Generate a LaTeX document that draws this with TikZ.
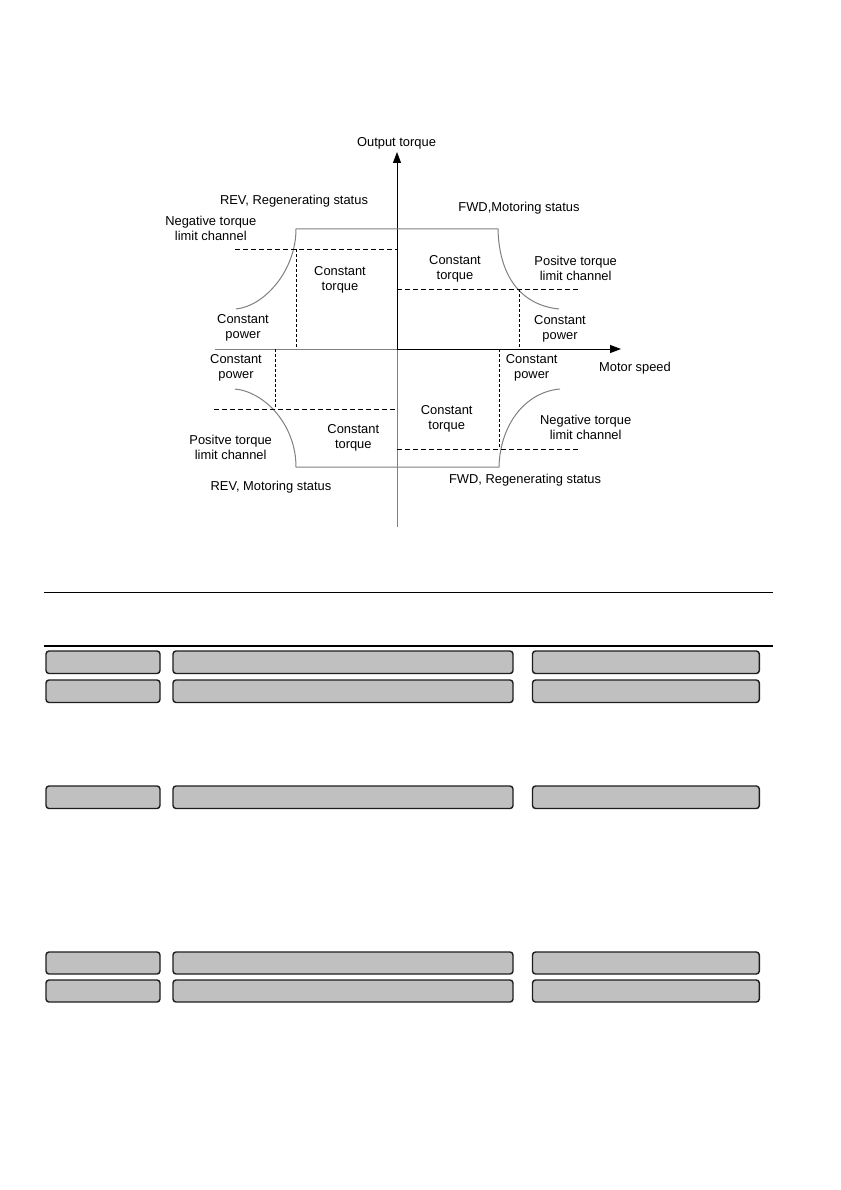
\documentclass[tikz,border=0pt]{standalone}
\usepackage{fontspec}
\setmainfont{Liberation Sans}
\usetikzlibrary{arrows.meta}
\definecolor{barfill}{HTML}{C0C0C0}
\definecolor{barline}{HTML}{1E1E1E}
\definecolor{limgray}{HTML}{808080}
\begin{document}
\begin{tikzpicture}[x=1pt,y=-1pt,
  lbl/.style={font=\fontsize{12.9}{15}\selectfont, align=center, inner sep=0pt, text=black},
  axisline/.style={line width=1pt, black},
  axisgray/.style={line width=1pt, limgray},
  limline/.style={line width=1pt, limgray},
  dashh/.style={line width=1pt, black, dash pattern=on 5pt off 3pt},
  dashv/.style={line width=1pt, black, dash pattern=on 3pt off 2pt},
  bar/.style={draw=barline, fill=barfill, line width=1.4pt, rounded corners=3pt},
  rule/.style={line width=1.3pt, black},
  tip/.style={-{Triangle[length=11pt,width=8pt]}}
]
\useasboundingbox (0,0) rectangle (840,1190);
\fill[white] (0,0) rectangle (840,1190);

% axes
\coordinate (O) at (397,349);
\coordinate (ytop) at (397,152);
\coordinate (ybot) at (397,527);
\coordinate (xleft) at (215,349);
\coordinate (xright) at (621,349);
\draw[axisgray] (O) -- (ybot);
\draw[axisgray] (xleft) -- (O);
\draw[axisline,tip] (O) -- (ytop);
\draw[axisline,tip] (O) -- (xright);

% upper torque limit
\draw[limline] (236,309) .. controls (265,306) and (296,270) .. (296,229) -- (498,229)
  .. controls (499,275) and (520,305) .. (559,309);
% lower torque limit
\draw[limline] (235,389) .. controls (265,392) and (296,425) .. (296,467) -- (499,467)
  .. controls (500,425) and (525,392) .. (560,389);

% dashed lines upper
\draw[dashh] (235,249) -- (397,249);
\draw[dashv] (296.5,249) -- (296.5,349);
\draw[dashh] (397,289) -- (580,289);
\draw[dashv] (519.3,289) -- (519.3,349);
% dashed lines lower
\draw[dashh] (214,409) -- (397,409);
\draw[dashv] (275.3,349) -- (275.3,409);
\draw[dashh] (397,449) -- (580,449);
\draw[dashv] (499.3,349) -- (499.3,449);

% labels
\node[lbl] (t1) at (396.5,143) {Output torque};
\node[lbl] (t2) at (294,201) {REV, Regenerating status};
\node[lbl] (t3) at (210.8,228.5) {Negative torque\\limit channel};
\node[lbl] (t4) at (340,279.5) {Constant\\torque};
\node[lbl] (t5) at (243,328) {Constant\\power};
\node[lbl] (t6) at (519,208) {FWD,Motoring status};
\node[lbl] (t7) at (455,268.5) {Constant\\torque};
\node[lbl] (t8) at (575.7,268.5) {Positve torque\\limit channel};
\node[lbl] (t9) at (560,328.5) {Constant\\power};
\node[lbl] (t10) at (236,367.5) {Constant\\power};
\node[lbl] (t11) at (353.3,438) {Constant\\torque};
\node[lbl] (t12) at (230.7,447.5) {Positve torque\\limit channel};
\node[lbl] (t13) at (271,487.5) {REV, Motoring status};
\node[lbl] (t14) at (531.7,367.5) {Constant\\power};
\node[lbl] (t15) at (635,368) {Motor speed};
\node[lbl] (t16) at (446.7,418.5) {Constant\\torque};
\node[lbl] (t17) at (585.7,427.5) {Negative torque\\limit channel};
\node[lbl] (t18) at (525,480) {FWD, Regenerating status};

% rules
\draw[rule] (44,592.3) -- (773,592.3);
\draw[rule] (44,646) -- (773,646);

% bars
\foreach \yt/\yb in {651/673.5, 680/702.5, 786/808.5, 952/974, 980/1002}{
  \draw[bar] (46,\yt) rectangle (160,\yb);
  \draw[bar] (173,\yt) rectangle (513,\yb);
  \draw[bar] (532.5,\yt) rectangle (759.3,\yb);
}
\end{tikzpicture}
\end{document}
